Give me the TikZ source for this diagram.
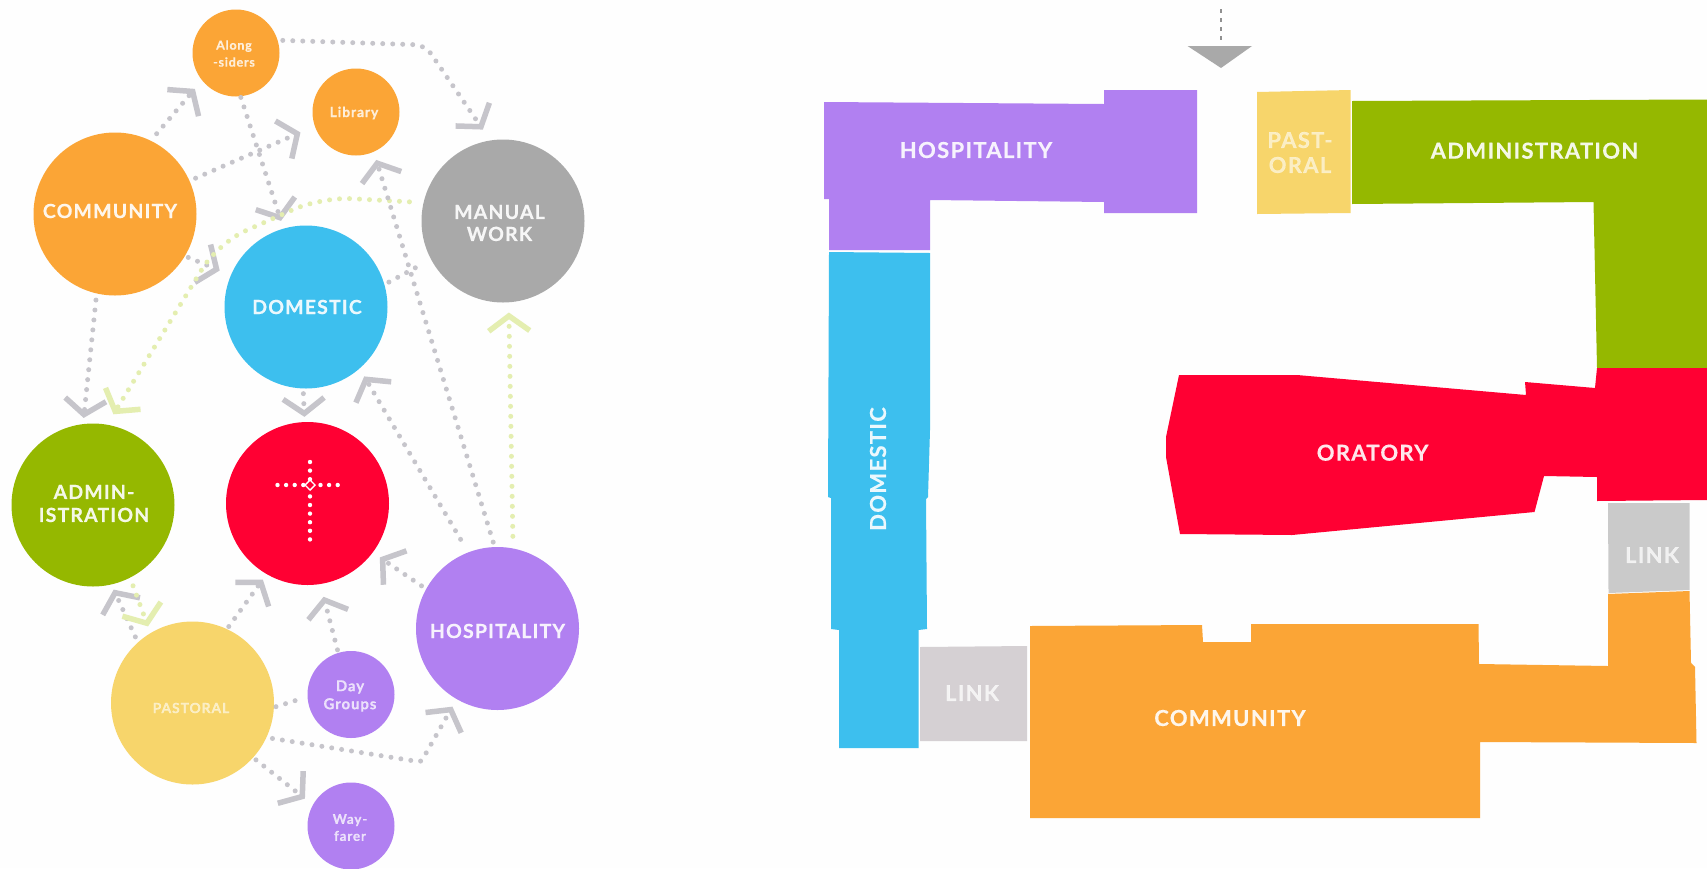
\documentclass[tikz,border=0pt]{standalone}
\usepackage{fontspec}
\setmainfont{Lato}[LetterSpace=6,BoldFeatures={FakeBold=0.4}]
\usetikzlibrary{arrows.meta}
\definecolor{cor}{HTML}{FBA536}
\definecolor{cbl}{HTML}{3DBFEE}
\definecolor{cre}{HTML}{FF0033}
\definecolor{cgn}{HTML}{95B800}
\definecolor{cgy}{HTML}{A9A9A9}
\definecolor{cpu}{HTML}{B180F1}
\definecolor{cye}{HTML}{F7D56B}
\definecolor{clk}{HTML}{D5D0D3}
\definecolor{clk2}{HTML}{CACACA}
\definecolor{cdot}{HTML}{C6C5CB}
\definecolor{cpale}{HTML}{E4EEB0}
\tikzset{
  x=1pt,y=-1pt,
  big/.style={circle,inner sep=0pt,minimum size=163pt,fill=#1},
  small/.style={circle,inner sep=0pt,minimum size=87pt,fill=#1},
  lab/.style={text=white,text opacity=.9,inner sep=0pt,align=center,font=\bfseries\fontsize{#1}{#1}\selectfont},
  conn/.style={draw=cdot,line width=5pt,line cap=round,dash pattern=on 0pt off 10pt,
    -{Straight Barb[length=15pt,width=41pt,line width=5.5pt]}},
  plain/.style={draw=cdot,line width=5pt,line cap=round,dash pattern=on 0pt off 10pt},
  pale/.style={draw=cpale},
  crossdots/.style={draw=white,line width=4.4pt,line cap=round,dash pattern=on 0pt off 8.6pt},
}
\begin{document}
\begin{tikzpicture}
\useasboundingbox (0,0) rectangle (1707,868);
\fill[white!99.5!black] (0,0) rectangle (1707,868);
% ---- bubble diagram
\node[big=cor] (com) at (115,214) {};
\node[small=cor] (alo) at (236,53) {};
\node[small=cor] (lib) at (356,112) {};
\node[big=cgy] (man) at (503,221) {};
\node[big=cbl] (dom) at (306,307) {};
\node[big=cgn] (adm) at (93,505) {};
\node[big=cre] (ora) at (307.5,503.5) {};
\node[big=cpu] (hos) at (497.5,628.5) {};
\node[big=cye] (pas) at (192.5,703) {};
\node[small=cpu] (day) at (351,694.5) {};
\node[small=cpu] (way) at (351,826) {};
% labels of the bubbles
\node[lab=19.5] (tcom) at (110,211) {COMMUNITY};
\node[lab=19.5] (tman) at (499.5,223) {MANUAL\\[2.5pt]WORK};
\node[lab=19.5] (tdom) at (307,307) {DOMESTIC};
\node[lab=19.5] (tadm) at (94,503.5) {ADMIN-\\[3.5pt]ISTRATION};
\node[lab=19.5] (thos) at (497.5,631) {HOSPITALITY};
\node[lab=14,text opacity=.6] (tpas) at (191,708) {PASTORAL};
\node[lab=12.5,text opacity=.8] (talo) at (234,53.5) {Along\\[4.5pt]-siders};
\node[lab=14,text opacity=.8] (tlib) at (354,113) {Library};
\node[lab=15,text opacity=.75] (tday) at (350,696) {Day\\[3pt]Groups};
\node[lab=13.5,text opacity=.75] (tway) at (350,827.5) {Way-\\[3.5pt]farer};
% cross
\coordinate (cn) at (310,462); \coordinate (cs) at (310,544);
\coordinate (cw) at (277.5,485); \coordinate (ce) at (344,485);
\draw[crossdots] (cn) -- (cs);
\draw[crossdots] (cw) -- (ce);
\fill[cre] (310,480) -- (315,485) -- (310,490) -- (305,485) -- cycle;
\draw[white,line width=1.4pt] (310,480) -- (315,485) -- (310,490) -- (305,485) -- cycle;
% connectors
\coordinate (b1) at (425,45);
\coordinate (b2) at (421,762);
\coordinate (g1) at (321.5,197);
\coordinate (g2) at (218,243);
\draw[conn,shorten <=9pt,shorten >=11pt] (com.64) -- (alo.219);
\draw[conn,shorten <=6.5pt,shorten >=15.5pt] (com.24) -- (lib.199.6);
\draw[conn,shorten <=3.5pt,shorten >=12pt] (com.-31) -- (dom.157);
\draw[conn,shorten <=6.5pt,shorten >=6pt] (com.-103) -- (adm.97);
\draw[conn,rounded corners=10pt,shorten <=5pt,shorten >=13pt] (alo.17.7) -- (b1) -- (man.99);
\draw[conn,shorten <=1pt,shorten >=8pt] (alo.-84) -- (dom.106);
\draw[conn,pale,rounded corners=30pt,shorten <=14pt,shorten >=12pt] (man.167) -- (g1) -- (g2) -- (adm.80);
\draw[conn,shorten <=5pt,shorten >=5pt] (dom.-92) -- (ora.92);
\draw[conn,shorten <=5pt,shorten >=8.4pt] (hos.92) -- (lib.-66);
\draw[conn,shorten <=15pt,shorten >=9pt] (hos.111) -- (dom.-49);
\draw[conn,pale,shorten <=12pt,shorten >=10pt] (hos.79) -- (man.-86);
\draw[plain,shorten <=5pt,shorten >=8pt] (dom.16) -- (man.208);
\draw[conn,shorten <=5.5pt,shorten >=8.5pt] (hos.151.5) -- (ora.-37);
\draw[conn,shorten <=6pt,shorten >=5.5pt] (pas.132) -- (adm.-77);
\draw[conn,pale,shorten <=8.5pt,shorten >=7pt] (adm.-63) -- (pas.121);
\draw[conn,shorten <=3pt,shorten >=6.5pt] (pas.65) -- (ora.240);
\draw[conn,shorten <=3pt,shorten >=13pt] (day.107.5) -- (ora.-81.5);
\draw[plain,shorten <=2pt,shorten >=5.5pt] (pas.-3) -- (day.183);
\draw[conn,rounded corners=3pt,shorten <=6pt,shorten >=8.5pt] (pas.-25) -- (b2) -- (hos.240.7);
\draw[conn,shorten <=3.5pt,shorten >=10pt] (pas.-42) -- (way.151);
% ---- plan
\coordinate (ent) at (1221,9);
\coordinate (tri) at (1221,42);
\draw[cgy!85!black,line width=2.6pt,dash pattern=on 3.5pt off 5.5pt] (ent) -- (tri);
\fill[cgy] (1187.5,46) -- (1252,46) -- (1221,68) -- cycle;
\fill[cpu] (824,102) -- (1104,104) -- (1104,90) -- (1197,90) -- (1197,213) -- (1104,213) -- (1104,202) -- (930,200) -- (930,250) -- (829,250) -- (829,199) -- (824,199) -- cycle;
\fill[cye] (1257,92) -- (1350.6,90) -- (1350.6,213) -- (1257,214) -- cycle;
\fill[cgn] (1352,101) -- (1707,99.5) -- (1707,368) -- (1597,368) -- (1593.5,202) -- (1352,204) -- cycle;
\fill[cre] (1179,375) -- (1297,375) -- (1526,395) -- (1525,382) -- (1595,388) -- (1597,368) -- (1707,368) -- (1707,500) -- (1597,501) -- (1597,477) -- (1544,476) -- (1534.5,512) -- (1292,535) -- (1180,534) -- (1166,457) -- (1166,437) -- cycle;
\fill[cbl] (829,252) -- (930,253) -- (930,430) -- (928,497) -- (926,499) -- (927,629) -- (918.5,630) -- (918.5,748) -- (839,748) -- (839,630) -- (831,629) -- (831,498) -- (828,497) -- cycle;
\fill[clk] (920,647) -- (1027,646) -- (1027,741) -- (920,741) -- cycle;
\fill[cor] (1030,626) -- (1202,625) -- (1203,642) -- (1251,642) -- (1251,624) -- (1478.5,624) -- (1479,664) -- (1608,666) -- (1608,594) -- (1689.5,591) -- (1691,663) -- (1695,667) -- (1696.5,743) -- (1480,742) -- (1480,818) -- (1030,818) -- cycle;
\fill[clk2] (1608,503) -- (1689.5,503) -- (1689.5,590) -- (1608.5,593) -- cycle;
% labels of the plan
\node[lab=22] (phos) at (976,150) {HOSPITALITY};
\node[lab=22,text opacity=.6] (ppas) at (1300,152.5) {PAST-\\[3pt]ORAL};
\node[lab=22] (padm) at (1534.5,150.7) {ADMINISTRATION};
\node[lab=22] (pora) at (1372.6,452.7) {ORATORY};
\node[lab=22] (pcom) at (1230,718) {COMMUNITY};
\node[lab=22,text opacity=.75] (plk1) at (972,693) {LINK};
\node[lab=22,text opacity=.75] (plk2) at (1652,555) {LINK};
\node[lab=22,rotate=90] (pdom) at (878,469) {DOMESTIC};
\end{tikzpicture}
\end{document}
